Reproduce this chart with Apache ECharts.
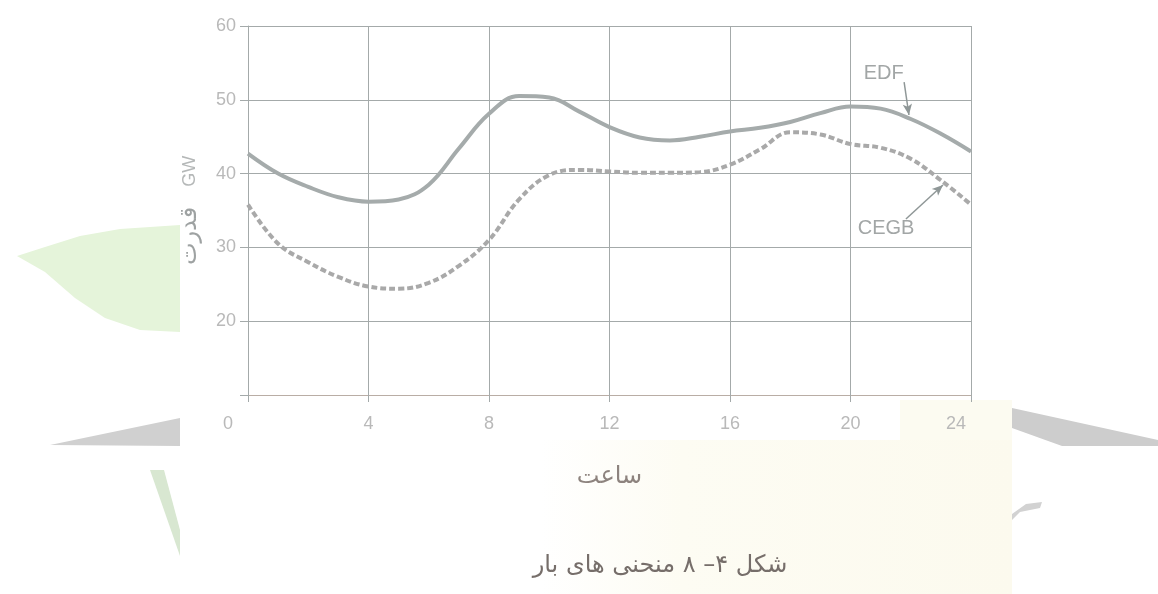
<!DOCTYPE html>
<html>
<head>
<meta charset="utf-8">
<script src="https://cdn.jsdelivr.net/npm/echarts@6/dist/echarts.min.js"></script>
<style>
  html, body { margin: 0; padding: 0; background: #fff; }
  #chart { width: 1158px; height: 594px; }
</style>
</head>
<body>
<div id="chart"></div>
<script>
// hours of the day
const hours = [0, 1, 2, 3, 4, 5, 6, 7, 8, 9, 10, 11, 12, 13, 14, 15, 16, 17, 18, 19, 20, 21, 22, 23, 24]
// EDF load, GW (solid curve)
const edfLoad = [42.7, 40.0, 38.2, 36.8, 36.2, 36.5, 38.5, 43.4, 48.1, 50.5, 50.3, 48.4, 46.3, 44.9, 44.5, 45.0, 45.7, 46.2, 47.0, 48.2, 49.1, 48.8, 47.4, 45.4, 43.0]
// CEGB load, GW (dashed curve)
const cegbLoad = [35.8, 30.5, 28.0, 26.0, 24.7, 24.4, 25.2, 27.5, 31.0, 36.5, 39.8, 40.5, 40.3, 40.1, 40.1, 40.2, 41.2, 43.3, 45.6, 45.3, 44.0, 43.5, 42.0, 39.1, 35.8]
const xTicks = [0, 4, 8, 12, 16, 20, 24]
const yTicks = [20, 30, 40, 50, 60]

const caption = 'شکل ۴– ۸ منحنی های بار'

const chart = echarts.init(document.getElementById('chart'))

const gridColor = '#a4aaaa'
const labelColor = '#b9b9b9'
const fontFam = "'Liberation Sans', 'DejaVu Sans', sans-serif"
const arabicFam = "'DejaVu Sans', sans-serif"

const option = {
  backgroundColor: '#ffffff',
  animation: false,
  title: {
    text: caption,
    left: 655,
    top: 549,
    textAlign: 'center',
    textStyle: {
      color: '#766e6a',
      fontSize: 24,
      fontWeight: 'normal',
      fontFamily: arabicFam
    }
  },
  graphic: [
    // scan leftovers outside the page: leaf and grey wedges
    {
      type: 'polygon', z: -10,
      shape: { points: [[17, 256], [45, 247], [80, 236], [120, 229], [180, 225], [180, 332], [140, 330], [105, 318], [75, 298], [45, 272]] },
      style: { fill: '#e5f4da' }
    },
    {
      type: 'polygon', z: -10,
      shape: { points: [[50, 445], [180, 418], [180, 446]] },
      style: { fill: '#d0d0d0' }
    },
    {
      type: 'polygon', z: -10,
      shape: { points: [[150, 470], [164, 470], [180, 530], [180, 556]] },
      style: { fill: '#d8e7d1' }
    },
    {
      type: 'polygon', z: -10,
      shape: { points: [[1012, 408], [1158, 440], [1158, 446], [1062, 446], [1012, 428]] },
      style: { fill: '#cdcdcd' }
    },
    {
      type: 'polygon', z: -10,
      shape: { points: [[1012, 514], [1026, 504], [1042, 502], [1040, 508], [1020, 512], [1012, 520]] },
      style: { fill: '#d2d2d2' }
    },
    {
      type: 'rect', z: -11,
      shape: { x: 540, y: 440, width: 472, height: 154 },
      style: {
        fill: new echarts.graphic.LinearGradient(0, 0, 1, 0, [
          { offset: 0, color: '#ffffff' },
          { offset: 0.3, color: '#fdfcf3' },
          { offset: 1, color: '#fcfaee' }
        ])
      }
    },
    {
      type: 'rect', z: -11,
      shape: { x: 900, y: 400, width: 112, height: 40 },
      style: { fill: '#fcfbf1' }
    }
  ],
  grid: {
    left: 248,
    right: 187,
    top: 26,
    bottom: 199,
    containLabel: false
  },
  xAxis: {
    type: 'value',
    min: 0,
    max: 24,
    interval: 4,
    name: 'ساعت',
    nameLocation: 'middle',
    nameGap: 70,
    nameTextStyle: {
      color: '#8d837e',
      fontSize: 24,
      fontFamily: arabicFam
    },
    axisLine: { lineStyle: { color: '#b9ada5', width: 1 } },
    axisTick: { show: true, inside: false, length: 7, lineStyle: { color: gridColor } },
    axisLabel: {
      margin: 20,
      color: labelColor,
      fontSize: 18,
      fontFamily: fontFam,
      formatter: v => {
        if (v === 0) return '{l|0}'
        if (v === 24) return '{r|24}'
        return xTicks.includes(v) ? String(v) : ''
      },
      rich: {
        l: { color: labelColor, fontSize: 18, fontFamily: fontFam, padding: [0, 40, 0, 0] },
        r: { color: labelColor, fontSize: 18, fontFamily: fontFam, padding: [0, 30, 0, 0] }
      }
    },
    splitLine: { show: true, lineStyle: { color: gridColor, width: 1 } }
  },
  yAxis: {
    type: 'value',
    min: 10,
    max: 60,
    interval: 10,
    name: '{p|قدرت}      {g|GW}',
    nameLocation: 'middle',
    nameGap: 46,
    nameTextStyle: {
      rich: {
        p: { color: '#9ea2a2', fontSize: 24, fontFamily: arabicFam },
        g: { color: '#b5b8b8', fontSize: 18, fontFamily: fontFam }
      }
    },
    axisLine: { show: true, lineStyle: { color: gridColor, width: 1 } },
    axisTick: { show: true, inside: false, length: 8, lineStyle: { color: gridColor } },
    axisLabel: {
      margin: 12,
      color: labelColor,
      fontSize: 18,
      fontFamily: fontFam,
      formatter: v => (yTicks.includes(v) ? String(v) : '')
    },
    splitLine: { show: true, lineStyle: { color: gridColor, width: 1 } }
  },
  series: [
    {
      name: 'EDF',
      type: 'line',
      smooth: 0.4,
      symbol: 'none',
      data: hours.map((h, i) => [h, edfLoad[i]]),
      lineStyle: { color: '#a5abab', width: 4 },
      z: 4,
      markPoint: {
        symbol: 'circle',
        symbolSize: 1,
        itemStyle: { color: 'rgba(0,0,0,0)' },
        label: { show: true, position: 'inside', color: '#a2a6a6', fontSize: 20, fontFamily: fontFam, formatter: 'EDF' },
        data: [{ coord: [21.1, 53.5] }]
      },
      markLine: {
        silent: true,
        symbol: ['none', 'arrow'],
        symbolSize: [7, 11],
        label: { show: false },
        lineStyle: { color: '#8f9797', width: 1.5, type: 'solid' },
        data: [[{ coord: [21.78, 52.4] }, { coord: [21.94, 47.94] }]]
      }
    },
    {
      name: 'CEGB',
      type: 'line',
      smooth: 0.4,
      symbol: 'none',
      data: hours.map((h, i) => [h, cegbLoad[i]]),
      lineStyle: { color: '#a9a9a9', width: 4, type: [6, 3] },
      z: 3,
      markPoint: {
        symbol: 'circle',
        symbolSize: 1,
        itemStyle: { color: 'rgba(0,0,0,0)' },
        label: { show: true, position: 'inside', color: '#a2a6a6', fontSize: 20, fontFamily: fontFam, formatter: 'CEGB' },
        data: [{ coord: [21.18, 32.5] }]
      },
      markLine: {
        silent: true,
        symbol: ['none', 'arrow'],
        symbolSize: [7, 11],
        label: { show: false },
        lineStyle: { color: '#8f9797', width: 1.5, type: 'solid' },
        data: [[{ coord: [21.84, 33.85] }, { coord: [23.07, 38.46] }]]
      }
    }
  ]
}

chart.setOption(option)
</script>
</body>
</html>
